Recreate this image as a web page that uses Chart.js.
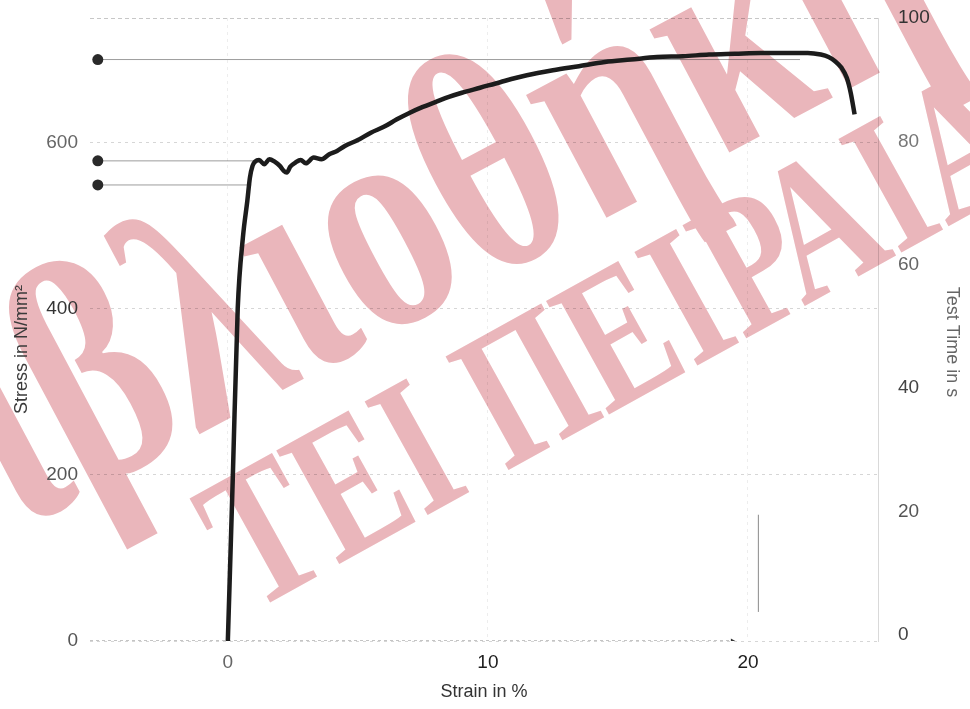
<!DOCTYPE html>
<html><head><meta charset="utf-8">
<script src="https://cdn.jsdelivr.net/npm/chart.js@4.4.0/dist/chart.umd.min.js"></script>
<style>html,body{margin:0;padding:0;background:#fff}</style>
</head><body>
<canvas id="c" width="970" height="709"></canvas>
<script>
// ---- data ----
const strainPct = [0,0.19,0.38,0.58,0.75,0.85,0.95,1.05,1.2,1.4,1.6,1.8,2.0,2.15,2.27,2.4,2.6,2.8,3.0,3.3,3.6,3.9,4.2,4.5,5.0,5.5,6.0,6.5,7.0,7.5,8.0,8.5,9.0,9.7,10.5,11.5,12.5,13.5,14.5,15.5,16.5,17.5,18.5,19.5,20.5,21.5,22.3,22.8,23.1,23.35,23.6,23.8,23.95,24.1];
const stressNmm2 = [0,196,400,486,530,558,572,577,579,574,580,577,572,566,564,571,576,579,575,582,580,586,590,596,603,612,619,628,636,643,649,655,660,666,673,681,687,692,697,700,703,704,706,707,708,708,708,706,703,698,690,678,660,634];
const refStress = [700, 578, 549];      // Rm, ReH, ReL markers
const refEndStrain = [22.0, 1.0, 0.9];
const refStartStrain = -5;
const elongMarkStrain = [20.4, 20.4];
const elongMarkStress = [35, 152];
const baseLineStrain = [-5.3, 19.4];
const baseLineStress = [0, 0];
const strainTicks = [0, 10, 20];
const stressTicks = [0, 200, 400, 600];
const timeTicks = [0, 20, 40, 60, 80, 100];
const watermark1 = "Βιβλιοθήκη";
const watermark2 = "ΤΕΙ ΠΕΙΡΑΙΑ";

const xy = (xs, ys) => xs.map((x, i) => ({x, y: ys[i]}));

const refSets = refStress.map((s, i) => ({
  data: [{x: refStartStrain, y: s}, {x: refEndStrain[i], y: s}],
  borderColor: 'rgba(60,60,60,0.5)', borderWidth: 1,
  pointRadius: [5.5, 0], pointBackgroundColor: '#2a2a2a', pointBorderWidth: 0,
  showLine: true, yAxisID: 'y', order: 2
}));

const WM_FONT = '"Liberation Serif", "DejaVu Serif", serif';
// draw text so that the centre of character idx lands on (ax, ay)
function drawAnchored(ctx, txt, idx, ax, ay, angDeg, size, sy, centreEm) {
  ctx.save();
  ctx.font = 'bold ' + size + 'px ' + WM_FONT;
  const before = ctx.measureText(txt.slice(0, idx)).width;
  const half = ctx.measureText(txt[idx]).width / 2;
  ctx.translate(ax, ay);
  ctx.rotate(angDeg * Math.PI / 180);
  ctx.scale(1, sy);
  ctx.fillText(txt, -(before + half), centreEm * size);
  ctx.restore();
}

const wmPlugin = {
  id: 'wm',
  beforeDatasetsDraw(chart) {
    const ctx = chart.ctx;
    ctx.save();
    ctx.globalCompositeOperation = 'darken';
    ctx.fillStyle = 'rgb(234,182,187)';
    ctx.textBaseline = 'alphabetic';
    drawAnchored(ctx, watermark1, 5, 390, 250, -28, 245, 1.3, 0.23);
    drawAnchored(ctx, watermark2, 0, 262, 532, -29, 148, 1.34, 0.33);
    ctx.restore();
  }
};

const fixSize = (dim, v) => (s) => { s[dim] = v; s.paddingTop = 0; s.paddingBottom = 0; s.paddingLeft = 0; s.paddingRight = 0; };
const tickCol = (map) => (c) => map[c.tick && c.tick.value] || '#555';
const SANS = '"Liberation Sans", Arial, sans-serif';

new Chart(document.getElementById('c'), {
  type: 'scatter',
  data: {
    datasets: [
      { data: xy(strainPct, stressNmm2), showLine: true, borderColor: '#1c1c1c', borderWidth: 4.5,
        pointRadius: 0, cubicInterpolationMode: 'monotone', yAxisID: 'y', order: 1 },
      ...refSets,
      { data: xy(baseLineStrain, baseLineStress), showLine: true, borderColor: 'rgba(40,40,40,0.55)',
        borderWidth: 1, borderDash: [3, 3], pointRadius: [0, 3], pointStyle: 'triangle', rotation: 90,
        pointBackgroundColor: '#333', pointBorderWidth: 0, yAxisID: 'y', order: 3 },
      { data: xy(elongMarkStrain, elongMarkStress), showLine: true, borderColor: 'rgba(60,60,60,0.6)',
        borderWidth: 1, pointRadius: 0, yAxisID: 'y', order: 3 }
    ]
  },
  options: {
    responsive: false, animation: false,
    layout: { padding: { top: 18, left: 0, right: 0, bottom: 0 } },
    plugins: { legend: { display: false }, tooltip: { enabled: false } },
    scales: {
      x: {
        type: 'linear', min: -5.3, max: 25,
        afterBuildTicks: (s) => { s.ticks = strainTicks.map(v => ({value: v})); },
        afterFit: fixSize('height', 68),
        grid: { color: 'rgba(0,0,0,0.07)', drawTicks: false, lineWidth: 1 },
        border: { display: false, dash: [3, 4] },
        ticks: { padding: 10, color: tickCol({0: '#666', 10: '#1e1e1e', 20: '#1e1e1e'}),
                 font: { family: SANS, size: 19 } },
        title: { display: true, text: 'Strain in %', color: '#333', padding: { top: 0, bottom: 6 },
                 font: { family: SANS, size: 18 } }
      },
      y: {
        type: 'linear', position: 'left', min: 0, max: 750,
        afterBuildTicks: (s) => { s.ticks = stressTicks.map(v => ({value: v})); },
        afterFit: fixSize('width', 90),
        grid: { color: 'rgba(0,0,0,0.16)', drawTicks: false, lineWidth: 1 },
        border: { display: false, dash: [3, 4] },
        ticks: { padding: 12, color: tickCol({0: '#555', 200: '#555', 400: '#333', 600: '#666'}),
                 font: { family: SANS, size: 19 } },
        title: { display: true, text: 'Stress in N/mm²        ', color: '#3a3a3a', padding: { top: 11 },
                 font: { family: SANS, size: 18 } }
      },
      y2: {
        type: 'linear', position: 'right', min: -1, max: 100,
        afterBuildTicks: (s) => { s.ticks = timeTicks.map(v => ({value: v})); },
        afterFit: fixSize('width', 92),
        grid: { drawTicks: false, color: (c) => (c.tick && c.tick.value === 100) ? 'rgba(0,0,0,0.22)' : 'rgba(0,0,0,0)' },
        border: { display: true, color: 'rgba(0,0,0,0.15)', dash: [4, 3] },
        ticks: { padding: 20, color: tickCol({0: '#444', 20: '#555', 40: '#444', 60: '#666', 80: '#777', 100: '#333'}),
                 font: { family: SANS, size: 19 } },
        title: { display: true, text: '     Test Time in s', color: '#666', padding: { top: 7 },
                 font: { family: SANS, size: 18 } }
      }
    }
  },
  plugins: [wmPlugin]
});
</script>
</body></html>
